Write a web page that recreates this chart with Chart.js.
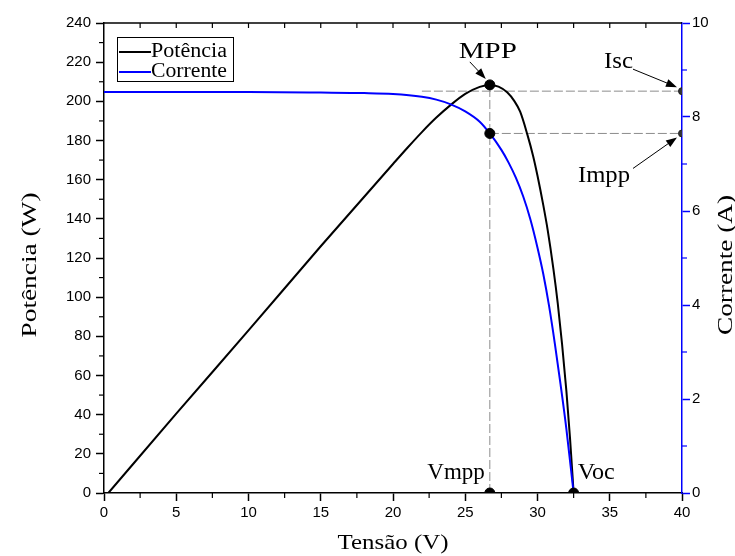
<!DOCTYPE html>
<html>
<head>
<meta charset="utf-8">
<script src="https://cdn.jsdelivr.net/npm/chart.js@4.4.0/dist/chart.umd.min.js"></script>
<style>
  html, body { margin: 0; padding: 0; background: #fff; }
  #wrap { width: 735px; height: 556px; }
</style>
</head>
<body>
<div id="wrap"><canvas id="pv" width="735" height="556"></canvas></div>
<script>
// curve data
const voltageP = [0.3, 5, 10, 15, 20, 21, 22, 23, 24, 25, 26, 26.7, 27.3, 27.9, 28.4, 28.8, 29.3, 29.7, 30, 30.4, 30.7, 31.1, 31.4, 31.7, 32, 32.25, 32.5];
const powerW   = [0, 40.5, 83, 126, 168, 176.3, 184.3, 191.7, 198.2, 203.8, 207.4, 208.4, 207.5, 204.6, 200.1, 194.7, 183, 172, 162, 147, 134.5, 114.5, 97, 76, 52, 28, 0];

const voltageI = [0, 5, 10, 15, 18, 20, 22, 23, 24, 25, 26, 26.7, 27.5, 28, 28.5, 29, 29.5, 30, 30.4, 30.8, 31.2, 31.6, 32, 32.5];
const currentA = [8.53, 8.53, 8.53, 8.52, 8.51, 8.49, 8.43, 8.37, 8.27, 8.12, 7.9, 7.65, 7.3, 7.03, 6.71, 6.32, 5.83, 5.22, 4.66, 3.98, 3.18, 2.3, 1.36, 0];

// key points
const vmpp = 26.7, pmpp = 208.4, impp = 7.65, isc = 8.55, voc = 32.5;

// ticks
const xTicks = [0, 5, 10, 15, 20, 25, 30, 35, 40];
const pTicks = [0, 20, 40, 60, 80, 100, 120, 140, 160, 180, 200, 220, 240];
const iTicks = [0, 2, 4, 6, 8, 10];

const serif = "'Liberation Serif', 'Times New Roman', serif";
const sans = "'Liberation Sans', Arial, sans-serif";

const pts = (xs, ys) => xs.map((x, i) => ({ x: x, y: ys[i] }));

// text squeezed / stretched to a given width, optional rotation
function fitText(ctx, txt, x, y, font, w, align, rot) {
  ctx.save();
  ctx.font = font;
  const s = w ? w / ctx.measureText(txt).width : 1;
  ctx.translate(x, y);
  if (rot) ctx.rotate(rot);
  ctx.scale(s, 1);
  ctx.textAlign = align || 'left';
  ctx.textBaseline = 'alphabetic';
  ctx.fillStyle = '#000';
  ctx.fillText(txt, 0, 0);
  ctx.restore();
}

function arrow(ctx, x1, y1, x2, y2) {
  ctx.save();
  ctx.strokeStyle = '#000';
  ctx.fillStyle = '#000';
  ctx.lineWidth = 1;
  const a = Math.atan2(y2 - y1, x2 - x1);
  ctx.beginPath();
  ctx.moveTo(x1, y1);
  ctx.lineTo(x2 - 8 * Math.cos(a), y2 - 8 * Math.sin(a));
  ctx.stroke();
  ctx.beginPath();
  ctx.moveTo(x2, y2);
  ctx.lineTo(x2 - 11 * Math.cos(a) + 4 * Math.sin(a), y2 - 11 * Math.sin(a) - 4 * Math.cos(a));
  ctx.lineTo(x2 - 11 * Math.cos(a) - 4 * Math.sin(a), y2 - 11 * Math.sin(a) + 4 * Math.cos(a));
  ctx.closePath();
  ctx.fill();
  ctx.restore();
}

const extras = {
  id: 'extras',
  afterDraw(chart) {
    const ctx = chart.ctx;
    const xs = chart.scales.x, ys = chart.scales.y, y1 = chart.scales.y1;
    const ca = chart.chartArea;

    ctx.save();
    // top frame + inward ticks
    ctx.strokeStyle = '#000';
    ctx.lineWidth = 1.5;
    ctx.beginPath();
    ctx.moveTo(ca.left, ca.top);
    ctx.lineTo(ca.right, ca.top);
    ctx.stroke();
    ctx.lineWidth = 1.2;
    for (let v = 2.5; v < 40; v += 2.5) {
      const px = xs.getPixelForValue(v);
      ctx.beginPath();
      ctx.moveTo(px, ca.top);
      ctx.lineTo(px, ca.top + 5);
      ctx.stroke();
    }
    // minor ticks bottom
    for (let v = 2.5; v < 40; v += 5) {
      const px = xs.getPixelForValue(v);
      ctx.beginPath();
      ctx.moveTo(px, ca.bottom);
      ctx.lineTo(px, ca.bottom + 5);
      ctx.stroke();
    }
    // minor ticks left
    for (let v = 10; v < 240; v += 20) {
      const py = ys.getPixelForValue(v);
      ctx.beginPath();
      ctx.moveTo(ca.left, py);
      ctx.lineTo(ca.left - 5, py);
      ctx.stroke();
    }
    // minor ticks right (blue)
    ctx.strokeStyle = '#0000ff';
    for (let v = 1; v < 10; v += 2) {
      const py = y1.getPixelForValue(v);
      ctx.beginPath();
      ctx.moveTo(ca.right, py);
      ctx.lineTo(ca.right + 5, py);
      ctx.stroke();
    }
    ctx.restore();

    // axis titles
    fitText(ctx, 'Tensão (V)', (ca.left + ca.right) / 2, 549, '22px ' + serif, 111, 'center');
    fitText(ctx, 'Potência (W)', 36, 265, '22px ' + serif, 145, 'center', -Math.PI / 2);
    fitText(ctx, 'Corrente (A)', 732, 265, '22px ' + serif, 140, 'center', -Math.PI / 2);

    // legend
    ctx.save();
    ctx.strokeStyle = '#000';
    ctx.lineWidth = 1;
    ctx.fillStyle = '#fff';
    ctx.fillRect(117.5, 37.5, 116, 44);
    ctx.strokeRect(117.5, 37.5, 116, 44);
    ctx.lineWidth = 2;
    ctx.beginPath(); ctx.moveTo(119, 52); ctx.lineTo(151, 52); ctx.stroke();
    ctx.strokeStyle = '#0000ff';
    ctx.beginPath(); ctx.moveTo(119, 72); ctx.lineTo(151, 72); ctx.stroke();
    ctx.restore();
    fitText(ctx, 'Potência', 151, 57, '20px ' + serif, 76, 'left');
    fitText(ctx, 'Corrente', 151, 77, '20px ' + serif, 76, 'left');

    // annotations
    const mx = xs.getPixelForValue(vmpp), my = ys.getPixelForValue(pmpp);
    fitText(ctx, 'MPP', mx - 31, my - 27, '23px ' + serif, 58, 'left');
    arrow(ctx, mx - 20, my - 23, mx - 4, my - 6);

    const sx = xs.getPixelForValue(40), sy = y1.getPixelForValue(isc);
    fitText(ctx, 'Isc', sx - 78, sy - 23, '23px ' + serif, 29, 'left');
    arrow(ctx, sx - 49, sy - 22, sx - 5, sy - 4);

    const iy = y1.getPixelForValue(impp);
    fitText(ctx, 'Impp', sx - 104, iy + 49, '23px ' + serif, 52, 'left');
    arrow(ctx, sx - 49, iy + 35, sx - 5, iy + 4);

    const by = ys.getPixelForValue(0);
    fitText(ctx, 'Vmpp', mx - 5, by - 14, '23px ' + serif, 0, 'right');
    fitText(ctx, 'Voc', xs.getPixelForValue(voc) + 4, by - 14, '23px ' + serif, 37, 'left');
  }
};

const dashGray = {
  borderColor: '#8c8c8c', borderWidth: 1, borderDash: [9, 3],
  pointRadius: 0, showLine: true, fill: false
};

new Chart(document.getElementById('pv'), {
  type: 'scatter',
  data: {
    datasets: [
      Object.assign({ data: [{ x: 22, y: isc }, { x: 40, y: isc }], yAxisID: 'y1', order: 5 }, dashGray),
      Object.assign({ data: [{ x: vmpp, y: impp }, { x: 40, y: impp }], yAxisID: 'y1', order: 5 }, dashGray),
      Object.assign({ data: [{ x: vmpp, y: 0 }, { x: vmpp, y: pmpp }], yAxisID: 'y', order: 5 }, dashGray),
      {
        label: 'Potência', data: pts(voltageP, powerW), yAxisID: 'y',
        showLine: true, borderColor: '#000', borderWidth: 2, pointRadius: 0,
        cubicInterpolationMode: 'monotone', order: 3
      },
      {
        label: 'Corrente', data: pts(voltageI, currentA), yAxisID: 'y1',
        showLine: true, borderColor: '#0000ff', borderWidth: 2, pointRadius: 0,
        cubicInterpolationMode: 'monotone', order: 2
      },
      {
        data: [{ x: vmpp, y: pmpp }, { x: vmpp, y: 0 }, { x: voc, y: 0 }], yAxisID: 'y',
        pointRadius: 5, backgroundColor: '#000', borderColor: '#000', order: 1
      },
      {
        data: [{ x: vmpp, y: impp }], yAxisID: 'y1',
        pointRadius: 5, backgroundColor: '#000', borderColor: '#000', order: 1
      },
      {
        data: [{ x: 40, y: isc }, { x: 40, y: impp }], yAxisID: 'y1',
        pointRadius: 3.5, backgroundColor: '#333', borderColor: '#222', order: 0
      }
    ]
  },
  options: {
    responsive: false,
    animation: false,
    events: [],
    layout: { padding: { top: 23, left: 0, right: 0, bottom: 0 } },
    plugins: { legend: { display: false }, tooltip: { enabled: false } },
    scales: {
      x: {
        type: 'linear', min: 0, max: 40,
        afterBuildTicks: s => { s.ticks = xTicks.map(v => ({ value: v })); },
        afterFit: s => { s.height = 63; },
        ticks: { color: '#000', font: { family: sans, size: 15 }, padding: 3, maxRotation: 0 },
        grid: { drawOnChartArea: false, tickLength: 8, tickColor: '#000', tickWidth: 1.5 },
        border: { color: '#000', width: 1.5 }
      },
      y: {
        type: 'linear', position: 'left', min: 0, max: 240,
        afterBuildTicks: s => { s.ticks = pTicks.map(v => ({ value: v })); },
        afterFit: s => { s.width = 104; },
        ticks: { color: '#000', font: { family: sans, size: 15 }, padding: 5 },
        grid: { drawOnChartArea: false, tickLength: 8, tickColor: '#000', tickWidth: 1.5 },
        border: { color: '#000', width: 1.5 }
      },
      y1: {
        type: 'linear', position: 'right', min: 0, max: 10,
        afterBuildTicks: s => { s.ticks = iTicks.map(v => ({ value: v })); },
        afterFit: s => { s.width = 53; },
        ticks: { color: '#000', font: { family: sans, size: 15 }, padding: 2 },
        grid: { drawOnChartArea: false, tickLength: 8, tickColor: '#0000ff', tickWidth: 1.5 },
        border: { color: '#0000ff', width: 1.5 }
      }
    }
  },
  plugins: [extras]
});
</script>
</body>
</html>
